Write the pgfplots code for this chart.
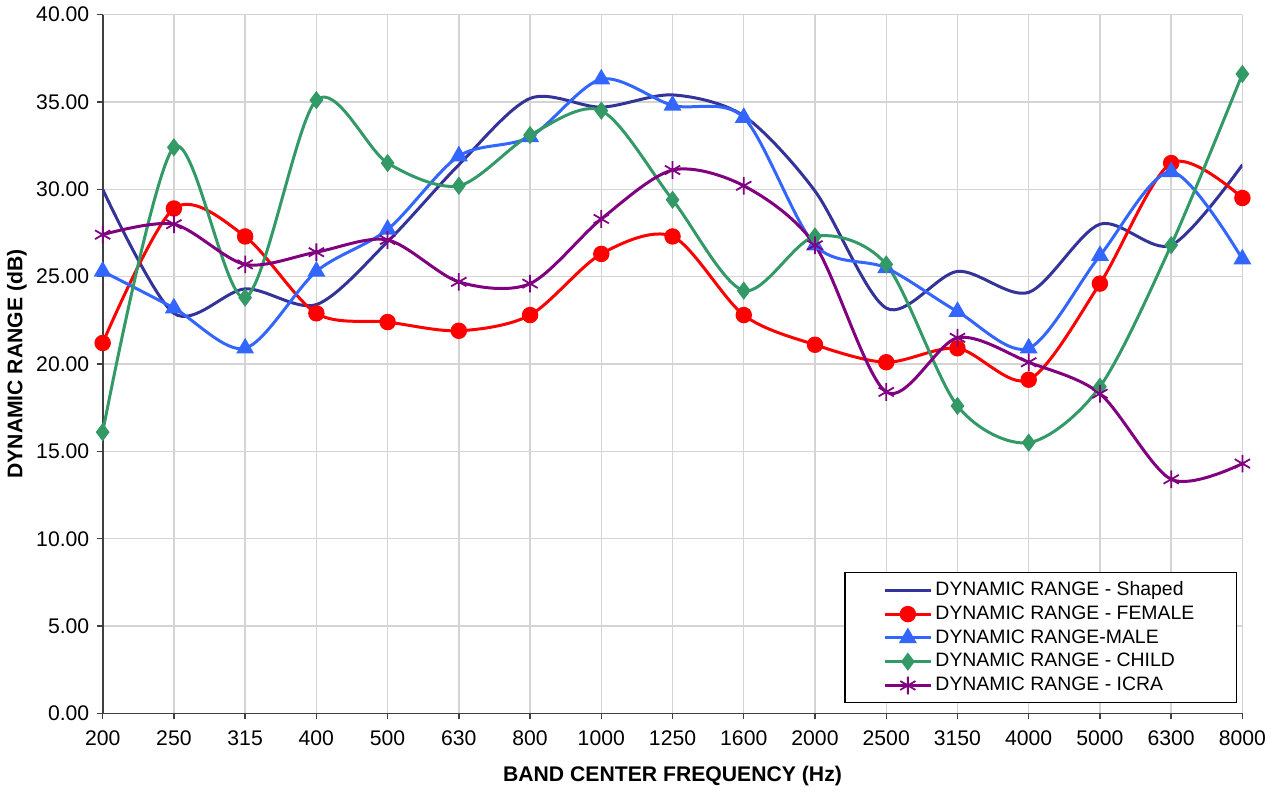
\documentclass[border=0pt]{standalone}
\usepackage{pgfplots}
\pgfplotsset{compat=1.18}
\usepackage{fontspec}
\setmainfont{Liberation Sans}
\definecolor{shaped}{HTML}{333399}
\definecolor{female}{HTML}{FF0000}
\definecolor{male}{HTML}{3366FF}
\definecolor{child}{HTML}{339966}
\definecolor{icra}{HTML}{800080}
\definecolor{gridgray}{HTML}{D4D4D4}
\begin{document}
\fontsize{12}{14.4}\selectfont
\begin{tikzpicture}
  \begin{axis}[
    scale only axis,
    width=22.7cm, height=13.92cm,
    xmin=0, xmax=16,
    ymin=0, ymax=40,
    xtick={0,...,16},
    xticklabels={200,250,315,400,500,630,800,1000,1250,1600,2000,2500,3150,4000,5000,6300,8000},
    ytick={0,5,...,40},
    /pgf/number format/assume math mode=true,
    yticklabel style={/pgf/number format/.cd,fixed,fixed zerofill,precision=2},
    xticklabel style={yshift=-0.08cm},
    axis x line*=bottom, axis y line*=left,
    axis line style={draw=black!75, line width=1pt},
    tick style={draw=black!75, line width=0.8pt},
    tick align=outside,
    major tick length=0.12cm,
    grid=major,
    major grid style={draw=gridgray, line width=0.8pt},
    xlabel={\textbf{BAND CENTER FREQUENCY (Hz)}},
    ylabel={\textbf{DYNAMIC RANGE (dB)}},
    xlabel style={yshift=-0.12cm},
    ylabel style={yshift=-0.1cm},
    every axis plot/.append style={line width=1.7pt, smooth, tension=0.5},
    legend cell align=left,
    legend style={at={(rel axis cs:0.9956,0.0144)}, anchor=south east,
      draw=black, line width=0.8pt, fill=white,
      row sep=0pt, inner xsep=22pt, inner ysep=3pt, font=\fontsize{11}{13}\selectfont},
    legend image code/.code={\draw[mark repeat=2,mark phase=2,#1] plot coordinates {(0cm,0cm) (0.45cm,0cm) (0.9cm,0cm)};},
  ]
    \addplot[color=shaped, no markers] coordinates {
      (0,30.0) (1,22.9) (2,24.3) (3,23.4) (4,27.0) (5,31.4) (6,35.2) (7,34.7) (8,35.4)
      (9,34.2) (10,29.9) (11,23.2) (12,25.3) (13,24.1) (14,28.0) (15,26.8) (16,31.4)};
    \addplot[color=female, mark=*, mark size=3.8pt, mark options={solid}] coordinates {
      (0,21.2) (1,28.9) (2,27.3) (3,22.9) (4,22.4) (5,21.9) (6,22.8) (7,26.3) (8,27.3)
      (9,22.8) (10,21.1) (11,20.1) (12,20.9) (13,19.1) (14,24.6) (15,31.5) (16,29.5)};
    \addplot[color=male, mark=triangle*, mark size=4.2pt, mark options={solid}] coordinates {
      (0,25.3) (1,23.2) (2,20.9) (3,25.3) (4,27.7) (5,31.9) (6,33.0) (7,36.3) (8,34.8)
      (9,34.1) (10,26.8) (11,25.5) (12,23.0) (13,20.9) (14,26.2) (15,31.0) (16,26.0)};
    \addplot[color=child, mark=diamond*, mark size=3.8pt, mark options={solid}] coordinates {
      (0,16.1) (1,32.4) (2,23.8) (3,35.1) (4,31.5) (5,30.2) (6,33.1) (7,34.5) (8,29.4)
      (9,24.2) (10,27.3) (11,25.7) (12,17.6) (13,15.5) (14,18.7) (15,26.8) (16,36.6)};
    \addplot[color=icra, mark=asterisk, mark size=5pt, mark options={solid, line width=1pt}] coordinates {
      (0,27.4) (1,28.0) (2,25.7) (3,26.4) (4,27.1) (5,24.7) (6,24.6) (7,28.3) (8,31.1)
      (9,30.2) (10,26.8) (11,18.4) (12,21.5) (13,20.1) (14,18.3) (15,13.4) (16,14.3)};
    \legend{DYNAMIC RANGE - Shaped, DYNAMIC RANGE - FEMALE, DYNAMIC RANGE-MALE, DYNAMIC RANGE - CHILD, DYNAMIC RANGE - ICRA}
  \end{axis}
\end{tikzpicture}
\end{document}
